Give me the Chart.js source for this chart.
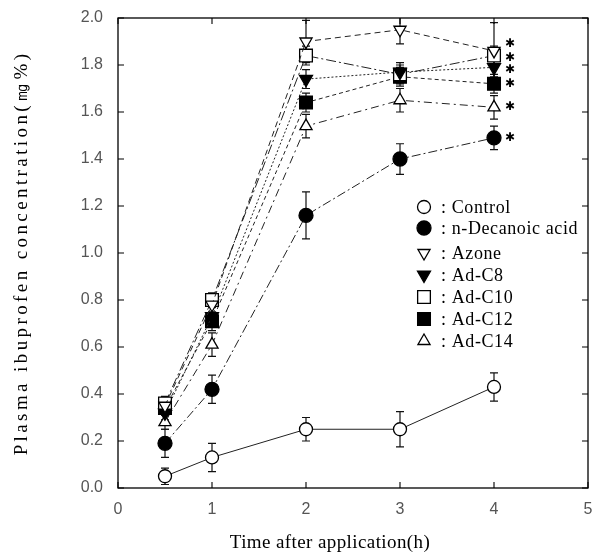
<!DOCTYPE html>
<html><head><meta charset="utf-8">
<script src="https://cdn.jsdelivr.net/npm/chart.js@4.4.1/dist/chart.umd.min.js"></script>
<style>html,body{margin:0;padding:0;background:#fff}#wrap{width:592px;height:554px}</style>
</head><body><div id="wrap"><canvas id="c" width="592" height="554"></canvas></div>
<script>
// ---- data ----
const times = [0.5, 1, 2, 3, 4];
const seriesNames = ['Control', 'n-Decanoic acid', 'Azone', 'Ad-C8', 'Ad-C10', 'Ad-C12', 'Ad-C14'];
const control    = [0.05, 0.13, 0.25, 0.25, 0.43];
const controlErr = [0.035, 0.06, 0.05, 0.075, 0.06];
const decanoic    = [0.19, 0.42, 1.16, 1.40, 1.49];
const decanoicErr = [0.06, 0.06, 0.10, 0.065, 0.05];
const azone    = [0.35, 0.78, 1.90, 1.95, 1.86];
const azoneErr = [0.03, 0.04, 0.09, 0.06, 0.12];
const adC8    = [0.32, 0.73, 1.74, 1.77, 1.79];
const adC8Err = [0.03, 0.04, 0.04, 0.04, 0.04];
const adC10    = [0.36, 0.80, 1.84, 1.76, 1.84];
const adC10Err = [0.03, 0.03, 0.04, 0.04, 0.04];
const adC12    = [0.34, 0.71, 1.64, 1.75, 1.72];
const adC12Err = [0.03, 0.04, 0.04, 0.04, 0.04];
const adC14    = [0.28, 0.61, 1.54, 1.65, 1.62];
const adC14Err = [0.03, 0.05, 0.05, 0.05, 0.05];
const asteriskY = [1.89, 1.83, 1.78, 1.72, 1.62, 1.49]; // significance marks at 4 h
const xTickValues = [0, 1, 2, 3, 4, 5];
const yTickValues = [0.0, 0.2, 0.4, 0.6, 0.8, 1.0, 1.2, 1.4, 1.6, 1.8, 2.0];
const xTitle = 'Time after application(h)';
const yTitle = 'Plasma ibuprofen concentration(㎎%)';

const seriesValues = [control, decanoic, azone, adC8, adC10, adC12, adC14];
const seriesErrors = [controlErr, decanoicErr, azoneErr, adC8Err, adC10Err, adC12Err, adC14Err];

// ---- styles ----
const styles = [
  {pointStyle:'circle', rotation:0, radius:6.5, fill:'#fff', dash:[]},
  {pointStyle:'circle', rotation:0, radius:7, fill:'#000', dash:[9,3,2,3]},
  {pointStyle:'triangle', rotation:180, radius:7, fill:'#fff', dash:[6,4]},
  {pointStyle:'triangle', rotation:180, radius:7.5, fill:'#000', dash:[2,2]},
  {pointStyle:'rect', rotation:0, radius:9, fill:'#fff', dash:[10,3,2,3]},
  {pointStyle:'rect', rotation:0, radius:9, fill:'#000', dash:[4,3]},
  {pointStyle:'triangle', rotation:0, radius:7, fill:'#fff', dash:[8,4,2,4]}
];

const datasets = seriesNames.map((name, i) => ({
  label: name,
  data: times.map((t, j) => ({x: t, y: seriesValues[i][j]})),
  borderColor: '#222',
  borderWidth: 1,
  borderDash: styles[i].dash,
  pointStyle: styles[i].pointStyle,
  rotation: styles[i].rotation,
  pointRadius: styles[i].radius,
  pointBackgroundColor: styles[i].fill,
  pointBorderColor: '#000',
  pointBorderWidth: 1.3,
  fill: false,
  tension: 0,
  clip: false
}));

const deco = {
  id: 'deco',
  beforeDatasetsDraw(chart) {
    const ctx = chart.ctx, xs = chart.scales.x, ys = chart.scales.y, a = chart.chartArea;
    ctx.save();
    ctx.beginPath(); ctx.rect(a.left, a.top, a.right - a.left, a.bottom - a.top); ctx.clip();
    ctx.strokeStyle = '#111'; ctx.lineWidth = 1.2;
    seriesValues.forEach((vals, i) => {
      vals.forEach((v, j) => {
        const e = seriesErrors[i][j];
        const x = xs.getPixelForValue(times[j]);
        const y1 = ys.getPixelForValue(v + e), y2 = ys.getPixelForValue(v - e);
        ctx.beginPath();
        ctx.moveTo(x, y1); ctx.lineTo(x, y2);
        ctx.moveTo(x - 4, y1); ctx.lineTo(x + 4, y1);
        ctx.moveTo(x - 4, y2); ctx.lineTo(x + 4, y2);
        ctx.stroke();
      });
    });
    ctx.restore();
  },
  afterDraw(chart) {
    const ctx = chart.ctx, xs = chart.scales.x, ys = chart.scales.y, a = chart.chartArea;
    ctx.save();
    // frame
    ctx.strokeStyle = '#000'; ctx.lineWidth = 1.3;
    ctx.strokeRect(a.left, a.top, a.right - a.left, a.bottom - a.top);
    // inward ticks
    ctx.lineWidth = 1.1;
    ctx.beginPath();
    xTickValues.forEach(v => {
      const x = xs.getPixelForValue(v);
      ctx.moveTo(x, a.bottom); ctx.lineTo(x, a.bottom - 6);
      ctx.moveTo(x, a.top); ctx.lineTo(x, a.top + 6);
    });
    yTickValues.forEach(v => {
      const y = ys.getPixelForValue(v);
      ctx.moveTo(a.left, y); ctx.lineTo(a.left + 6, y);
      ctx.moveTo(a.right, y); ctx.lineTo(a.right - 6, y);
    });
    ctx.stroke();
    // asterisks
    ctx.fillStyle = '#000';
    ctx.font = 'bold 12px "DejaVu Sans"';
    ctx.textAlign = 'center'; ctx.textBaseline = 'middle';
    const ax = xs.getPixelForValue(4) + 16;
    asteriskY.forEach(v => ctx.fillText('✱', ax, ys.getPixelForValue(v)));
    // legend
    const legendRows = [207, 228, 253, 275, 297, 319, 341];
    ctx.font = '18px "Liberation Serif"';
    ctx.letterSpacing = '0.6px';
    ctx.textAlign = 'left';
    seriesNames.forEach((name, i) => {
      const st = styles[i];
      ctx.fillStyle = st.fill; ctx.strokeStyle = '#000'; ctx.lineWidth = 1.3;
      Chart.helpers.drawPoint(ctx, {pointStyle: st.pointStyle, rotation: st.rotation, radius: st.radius, borderWidth: 1.3}, 424, legendRows[i]);
      ctx.fillStyle = '#000';
      ctx.fillText(': ' + name, 441, legendRows[i] + 1);
    });
    // x title
    ctx.font = '19px "Liberation Serif"';
    ctx.letterSpacing = '0.4px';
    ctx.textAlign = 'center';
    ctx.fillText(xTitle, 330, 543);
    // y title
    ctx.save();
    ctx.translate(22, (a.top + a.bottom) / 2);
    ctx.rotate(-Math.PI / 2);
    ctx.font = '19px "Liberation Serif"';
    ctx.letterSpacing = '3.4px';
    ctx.fillText(yTitle, 0, 0);
    ctx.restore();
    ctx.restore();
  }
};

new Chart(document.getElementById('c'), {
  type: 'line',
  data: { datasets },
  options: {
    responsive: false,
    devicePixelRatio: 1,
    animation: false,
    events: [],
    layout: { autoPadding: false, padding: { left: 0, right: 4, top: 18, bottom: 0 } },
    plugins: { legend: { display: false }, tooltip: { enabled: false }, title: { display: false } },
    scales: {
      x: {
        type: 'linear', min: 0, max: 5,
        afterBuildTicks: s => { s.ticks = xTickValues.map(v => ({value: v})); },
        ticks: { color: '#555', font: { family: 'Liberation Sans', size: 16 }, padding: 12, maxRotation: 0, callback: v => String(v) },
        grid: { display: true, drawOnChartArea: false, drawTicks: false },
        border: { display: false },
        afterFit: s => { s.height = 66; s.paddingLeft = 0; s.paddingRight = 0; }
      },
      y: {
        type: 'linear', min: 0, max: 2,
        afterBuildTicks: s => { s.ticks = yTickValues.map(v => ({value: v})); },
        ticks: { color: '#555', font: { family: 'Liberation Sans', size: 16 }, padding: 15, callback: v => Number(v).toFixed(1) },
        grid: { display: true, drawOnChartArea: false, drawTicks: false },
        border: { display: false },
        afterFit: s => { s.width = 118; s.paddingTop = 0; s.paddingBottom = 0; }
      }
    }
  },
  plugins: [deco]
});
</script>
</body></html>
